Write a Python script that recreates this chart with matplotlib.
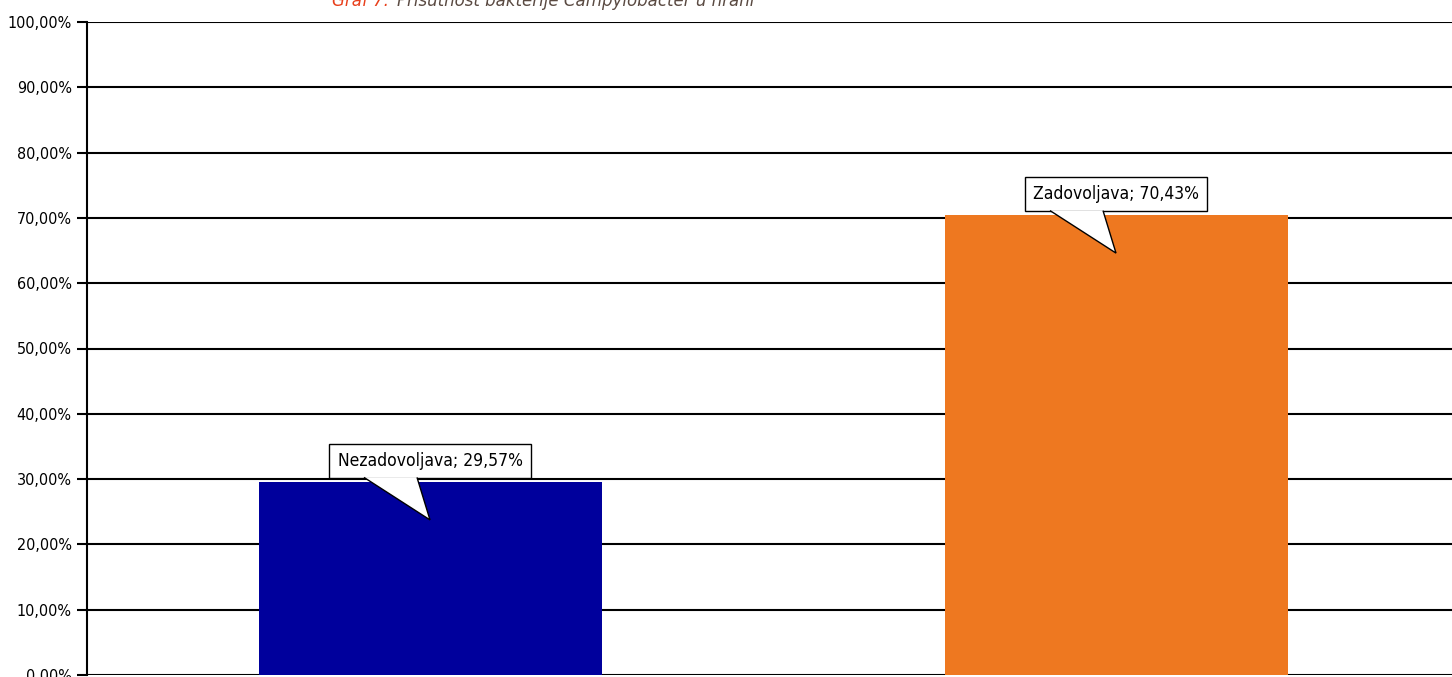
import matplotlib
matplotlib.use("Agg")
import matplotlib.pyplot as plt
from matplotlib.patches import Polygon
from matplotlib import font_manager

# Data
categories = ["Nezadovoljava", "Zadovoljava"]
values = [29.57, 70.43]
bar_colors = ["#00009C", "#EE7820"]
yticks = list(range(0, 101, 10))

# look for a narrow / condensed sans face, the original uses one
narrow = None
for f in font_manager.fontManager.ttflist:
    s = str(f.stretch).lower()
    if ("narrow" in f.name.lower() or "condensed" in f.name.lower()
            or s in ("condensed", "semi-condensed", "extra-condensed")
            or (s.isdigit() and int(s) < 500)):
        if f.style == "normal" and f.weight in (400, "normal", "regular"):
            narrow = f
            break
if narrow is not None:
    fp = font_manager.FontProperties(fname=narrow.fname)
    tick_size, label_size = 11.5, 12.5
else:
    fp = font_manager.FontProperties(family="Liberation Sans")
    tick_size, label_size = 10, 11

fig = plt.figure(figsize=(14.52, 6.77), dpi=100)
ax = fig.add_axes([87 / 1452, 2 / 677, 1372 / 1452, 653 / 677])

x = list(range(len(categories)))
ax.bar(x, values, width=0.5, color=bar_colors, zorder=3)
ax.set_xlim(-0.5, 1.5)
ax.set_ylim(0, 100)
ax.set_yticks(yticks)
ax.set_yticklabels([f"{v:.2f}".replace(".", ",") + "%" for v in yticks],
                   fontproperties=fp, fontsize=tick_size)
ax.set_xticks([])
ax.grid(axis="y", color="black", linewidth=1.5, zorder=1)
ax.tick_params(axis="y", length=7, width=1.5, color="black", pad=4)
for side in ["top", "right", "bottom"]:
    ax.spines[side].set_visible(False)
ax.spines["left"].set_linewidth(1.5)

# callout labels
fig.canvas.draw()
renderer = fig.canvas.get_renderer()
to_data = ax.transData.inverted()
for xi, v, name in zip(x, values, categories):
    px, py = ax.transData.transform((xi, v))
    bx, by = px, py + 21
    t = ax.text(bx, by, f"{name}; " + f"{v:.2f}".replace(".", ",") + "%",
                fontproperties=fp, fontsize=label_size, ha="center", va="center",
                zorder=6, transform=None)
    ext = t.get_window_extent(renderer)
    w, h = ext.width + 16, 34
    left, right = bx - w / 2, bx + w / 2
    bottom, top = by - h / 2, by + h / 2
    box = [(left, bottom), (left, top), (right, top), (right, bottom)]
    box_d = [to_data.transform(p) for p in box]
    ax.add_patch(Polygon(box_d, closed=True, fc="white", ec="black", lw=1.0, zorder=4))
    wedge = [(px - 66, bottom + 0.5), (px, py - 38), (px - 13, bottom + 0.5)]
    wedge_d = [to_data.transform(p) for p in wedge]
    ax.add_patch(Polygon(wedge_d, closed=False, fc="white", ec="black", lw=1.0,
                         zorder=5, clip_on=False))

# title (partly cut by the top edge)
fig.text(332 / 1452, 1 - 6 / 677, "Graf 7:", color="#E8401C", fontsize=12,
         style="italic", family="DejaVu Sans", va="baseline")
fig.text(397 / 1452, 1 - 6 / 677, "Prisutnost bakterije Campylobacter u hrani",
         color="#5A4A42", fontsize=12, style="italic", family="DejaVu Sans",
         va="baseline")

fig.savefig("out.png", dpi=100)
